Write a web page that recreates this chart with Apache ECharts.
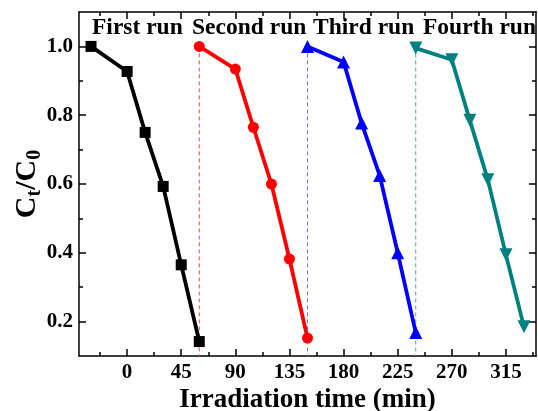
<!DOCTYPE html>
<html><head><meta charset="utf-8">
<script src="https://cdn.jsdelivr.net/npm/echarts@6/dist/echarts.min.js"></script>
<style>html,body{margin:0;padding:0;background:#fff}#c{width:538px;height:411px}</style>
</head><body><div id="c"></div>
<script>
const run1X = [-30, 0, 15, 30, 45, 60];
const run1Y = [1.0, 0.927, 0.75, 0.593, 0.365, 0.142];
const run2X = [60, 90, 105, 120, 135, 150];
const run2Y = [1.0, 0.934, 0.765, 0.60, 0.382, 0.152];
const run3X = [150, 180, 195, 210, 225, 240];
const run3Y = [1.0, 0.955, 0.777, 0.625, 0.40, 0.168];
const run4X = [240, 270, 285, 300, 315, 330];
const run4Y = [0.995, 0.961, 0.785, 0.612, 0.394, 0.185];
const runStarts = [60, 150, 240];
const runNames = ['First run', 'Second run', 'Third run', 'Fourth run'];
const xTicks = [0, 45, 90, 135, 180, 225, 270, 315];
const xMinor = [-22.5, 22.5, 67.5, 112.5, 157.5, 202.5, 247.5, 292.5, 337.5];
const yTicks = [0.2, 0.4, 0.6, 0.8, 1.0];
const yMinor = [0.3, 0.5, 0.7, 0.9];

const FONT = '"Liberation Serif","Times New Roman",serif';
const zip = (a, b) => a.map((v, i) => [v, b[i]]);
const chart = echarts.init(document.getElementById('c'));

function xAx(pos, ticks, len, labels, line) {
  return {
    type: 'value', position: pos, min: -40, max: 340, gridIndex: 0,
    axisLine: {show: line, onZero: false, lineStyle: {color: '#000', width: 1.5}},
    axisTick: {show: true, inside: true, length: len, customValues: ticks, lineStyle: {color: '#000', width: 1.5}},
    axisLabel: labels ? {show: true, customValues: ticks, color: '#000', fontFamily: FONT, fontWeight: 'bold', fontSize: 21, margin: 6} : {show: false},
    splitLine: {show: false}
  };
}
function yAx(pos, ticks, len, labels, line) {
  return {
    type: 'value', position: pos, min: 0.1, max: 1.1, gridIndex: 0,
    axisLine: {show: line, onZero: false, lineStyle: {color: '#000', width: 1.5}},
    axisTick: {show: true, inside: true, length: len, customValues: ticks, lineStyle: {color: '#000', width: 1.5}},
    axisLabel: labels ? {show: true, customValues: ticks, color: '#000', fontFamily: FONT, fontWeight: 'bold', fontSize: 21, margin: 6, formatter: v => v.toFixed(1)} : {show: false},
    splitLine: {show: false}
  };
}

const xAxes = [
  Object.assign(xAx('bottom', xTicks, 7, true, true), {
    name: 'Irradiation time (min)', nameLocation: 'middle', nameGap: 31, nameMoveOverlap: false,
    nameTextStyle: {color: '#000', fontFamily: FONT, fontWeight: 'bold', fontSize: 27}
  }),
  xAx('bottom', xMinor, 4, false, false),
  xAx('top', xTicks, 7, false, true),
  xAx('top', xMinor, 4, false, false)
];
const yAxes = [
  Object.assign(yAx('left', yTicks, 7, true, true), {
    name: 'C{s|t}/C{s|0}', nameLocation: 'middle', nameGap: 34, nameRotate: 90, nameMoveOverlap: false,
    nameTextStyle: {color: '#000', fontFamily: FONT, fontWeight: 'bold', fontSize: 30,
      rich: {s: {fontFamily: FONT, fontWeight: 'bold', fontSize: 20, verticalAlign: 'bottom', padding: [16, 0, 0, 0]}}}
  }),
  yAx('left', yMinor, 4, false, false),
  yAx('right', yTicks, 7, false, true),
  yAx('right', yMinor, 4, false, false)
];

const colors = ['#000000', '#ff0000', '#0000ff', '#008080'];
const dashColors = ['#e84848', '#6f6fff', '#4fa5a5'];
const symbols = ['rect', 'circle', 'triangle', 'triangle'];
const sizes = [11, 11, 13, 13];
const rot = [0, 0, 0, 180];
const data = [zip(run1X, run1Y), zip(run2X, run2Y), zip(run3X, run3Y), zip(run4X, run4Y)];

const series = [];
runStarts.forEach((x, i) => {
  series.push({
    type: 'line', xAxisIndex: 0, yAxisIndex: 0, data: [[x, 1.0], [x, 0.1]],
    symbol: 'none', silent: true, z: 1,
    lineStyle: {color: dashColors[i], width: 1, type: [4, 3]}
  });
});
data.forEach((d, i) => {
  series.push({
    type: 'line', xAxisIndex: 0, yAxisIndex: 0, data: d, name: runNames[i],
    symbol: symbols[i], symbolSize: sizes[i], symbolRotate: rot[i], z: 3,
    itemStyle: {color: colors[i]}, lineStyle: {color: colors[i], width: 3.8}
  });
});

const labelPos = [[92, 16], [192, 16], [313, 16], [423, 16]];
chart.setOption({
  animation: false,
  grid: {left: 79, top: 12, right: 2, bottom: 55, containLabel: false, outerBoundsMode: 'none'},
  xAxis: xAxes, yAxis: yAxes,
  series: series,
  graphic: runNames.map((t, i) => ({
    type: 'text', left: labelPos[i][0], top: labelPos[i][1], z: 10,
    style: {text: t, fill: '#000', font: 'bold 23.5px ' + FONT}
  }))
});
</script></body></html>
